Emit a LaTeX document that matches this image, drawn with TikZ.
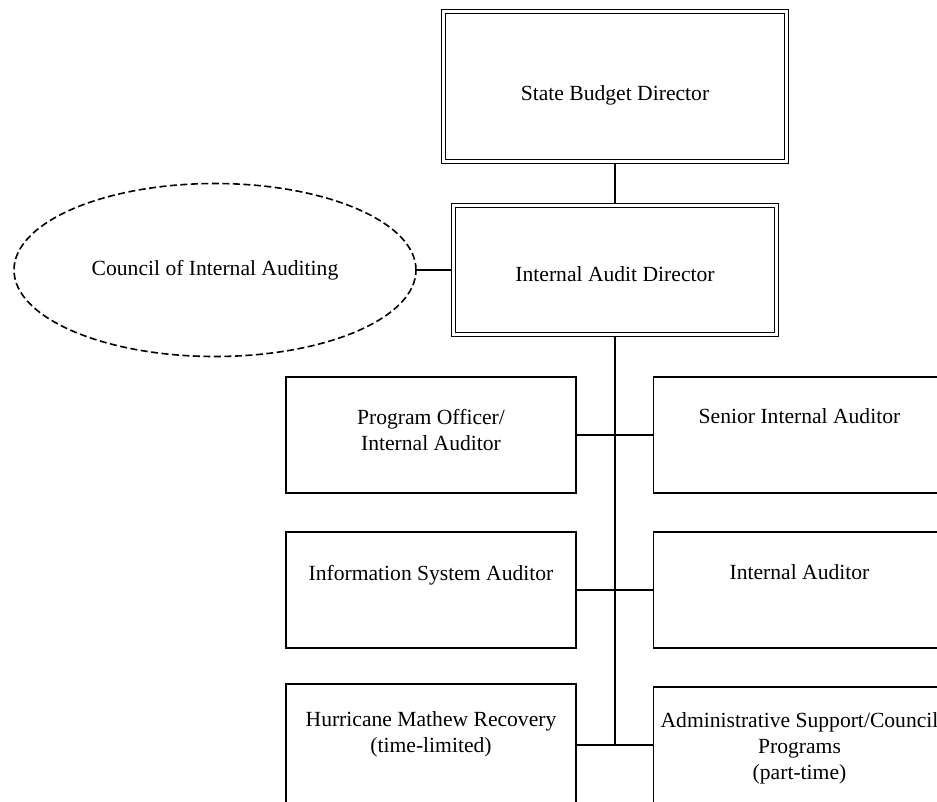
\documentclass[tikz,border=0pt]{standalone}
\usepackage{fontspec}
\setmainfont{Liberation Serif}
\usetikzlibrary{shapes}

\begin{document}
\begin{tikzpicture}[x=1pt, y=-1pt,
	every node/.style={font=\fontsize{21.6pt}{26pt}\selectfont},
	headbox/.style={draw, rectangle, double, line width=1.4pt, double distance=2.8pt,
		outer sep=2.8pt, text height=26pt, text depth=3pt},
	unitbox/.style={draw, rectangle, line width=1.4pt, inner sep=0pt},
	council/.style={draw, ellipse, line width=1.6pt, dash pattern=on 7pt off 3.5pt,
		inner sep=0pt, minimum width=402pt, minimum height=173pt},
	link/.style={line width=1.4pt}]
	\useasboundingbox (0,0) rectangle (937,801);
	\def \lx {431}
	\def \rx {799.5}
	\def \lw {290pt}
	\def \rw {292pt}

	\node[headbox, minimum width=343pt, minimum height=150pt, text height=30pt] (director) at (615,86.5)
		{State Budget Director};
	\node[headbox, minimum width=323pt, minimum height=129pt] (audit) at (615,270)
		{Internal Audit Director};
	\node[council] (council) at (215,270)
		{Council of Internal Auditing};

	\node[unitbox] (officer)   at (\lx,435)
		{\parbox[c][116pt][t]{\lw}{\centering\vspace*{32pt}Program Officer/\\Internal Auditor}};
	\node[unitbox] (senior)    at (\rx,435)
		{\parbox[c][116pt][t]{\rw}{\centering\vspace*{32pt}Senior Internal Auditor}};
	\node[unitbox] (infosys)   at (\lx,590)
		{\parbox[c][116pt][t]{\lw}{\centering\vspace*{33pt}Information System Auditor}};
	\node[unitbox] (internal)  at (\rx,590)
		{\parbox[c][116pt][t]{\rw}{\centering\vspace*{33pt}Internal Auditor}};
	\node[unitbox] (hurricane) at (\lx,745)
		{\parbox[c][122pt][t]{\lw}{\centering\vspace*{28pt}Hurricane Mathew Recovery\\(time-limited)}};
	\node[unitbox] (admin)     at (\rx,745)
		{\parbox[c][116pt][t]{\rw}{\centering\vspace*{26pt}Administrative Support/Council\\Programs\\(part-time)}};

	\coordinate (spine) at (615,745);

	\draw[link] (director) -- (audit);
	\draw[link] (council) -- (audit);
	\draw[link, line width=1.8pt] (audit.south) -- (spine);
	\draw[link] (officer) -- (senior);
	\draw[link] (infosys) -- (internal);
	\draw[link] (hurricane) -- (admin);
\end{tikzpicture}
\end{document}
